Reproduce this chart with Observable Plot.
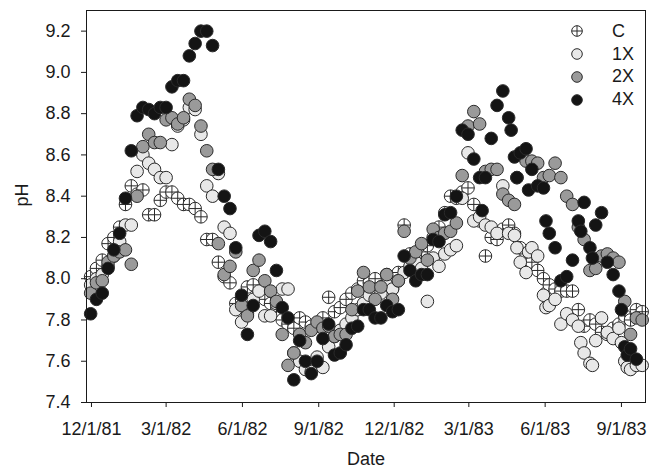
<!DOCTYPE html>
<html>
<head>
<meta charset="utf-8">
<script src="https://cdn.jsdelivr.net/npm/d3@7"></script>
<script src="https://cdn.jsdelivr.net/npm/@observablehq/plot@0.6"></script>
<style>
  body { margin: 0; background: #fff; }
  #chart { position: relative; width: 649px; height: 471px; font-family: "Liberation Sans", Arial, sans-serif; color: #1a1a1a; }
  #legend { position: absolute; left: 569px; top: 20px; }
  .item { display: flex; align-items: center; height: 22.8px; font-size: 18px; }
  .item svg { margin-right: 27px; display: block; }
</style>
</head>
<body>
<div id="chart"><div id="legend"></div></div>
<script>
// Weekly sampling dates (shared by all treatments)
const dates = [
  "1981-11-30","1981-12-07","1981-12-14","1981-12-21","1981-12-28","1982-01-04","1982-01-11","1982-01-18",
  "1982-01-25","1982-02-01","1982-02-08","1982-02-15","1982-02-22","1982-03-01","1982-03-08","1982-03-15",
  "1982-03-22","1982-03-29","1982-04-05","1982-04-12","1982-04-19","1982-04-26","1982-05-03","1982-05-10",
  "1982-05-17","1982-05-24","1982-05-31","1982-06-07","1982-06-14","1982-06-21","1982-06-28","1982-07-05",
  "1982-07-12","1982-07-19","1982-07-26","1982-08-02","1982-08-09","1982-08-16","1982-08-23","1982-08-30",
  "1982-09-06","1982-09-13","1982-09-20","1982-09-27","1982-10-04","1982-10-11","1982-10-18","1982-10-25",
  "1982-11-01","1982-11-08","1982-11-15","1982-11-22","1982-11-29","1982-12-06","1982-12-13","1982-12-20",
  "1982-12-27","1983-01-03","1983-01-10","1983-01-17","1983-01-24","1983-01-31","1983-02-07","1983-02-14",
  "1983-02-21","1983-02-28","1983-03-07","1983-03-14","1983-03-21","1983-03-28","1983-04-04","1983-04-11",
  "1983-04-18","1983-04-25","1983-05-02","1983-05-09","1983-05-16","1983-05-23","1983-05-30","1983-06-06",
  "1983-06-13","1983-06-20","1983-06-27","1983-07-04","1983-07-11","1983-07-18","1983-07-25","1983-08-01",
  "1983-08-08","1983-08-15","1983-08-22","1983-08-29","1983-09-05","1983-09-12","1983-09-19","1983-09-26"
];

const phC = [
  8.01,8.05,8.09,8.17,8.20,8.25,8.36,8.45, 8.41,8.43,8.31,8.31,8.38,8.42,8.42,8.39,
  8.36,8.36,8.34,8.30,8.19,8.19,8.08,8.01, 7.98,7.88,7.90,7.96,7.97,7.93,7.90,7.88,
  7.84,7.80,7.78,7.76,7.81,7.79,7.77,7.77, 7.81,7.91,7.84,7.86,7.90,7.93,7.95,7.99,
  7.98,8.00,7.96,8.02,7.95,8.03,8.26,8.12, 8.11,8.13,8.16,8.20,8.25,8.32,8.40,8.39,
  8.42,8.44,8.36,8.28,8.11,8.20,8.19,8.24, 8.26,8.22,8.15,8.12,8.08,8.04,8.00,7.97,
  7.95,7.94,7.94,7.94,7.85,7.77,7.80,7.78, 7.74,7.73,7.76,7.78,7.82,7.80,7.85,7.84
];
const ph1X = [
  7.97,8.00,8.02,8.06,8.11,8.18,8.26,8.26, 8.52,8.60,8.56,8.53,8.49,8.49,8.65,8.74,
  8.77,8.83,8.82,8.70,8.45,8.40,8.51,8.25, 8.22,7.85,7.79,7.83,7.90,7.94,7.82,7.82,
  7.88,7.95,7.95,7.64,7.60,7.56,7.55,7.62, 7.57,7.67,7.72,7.75,7.78,7.81,7.85,7.88,
  7.92,7.95,7.93,7.97,7.95,7.99,8.03,8.06, 8.08,8.05,7.89,8.10,8.06,8.12,8.14,8.16,
  8.39,8.61,8.28,8.30,8.26,8.25,8.22,8.45, 8.22,8.21,8.08,8.03,8.15,8.11,7.92,7.87,
  7.90,7.78,7.83,7.80,7.77,7.64,7.59,7.70, 7.81,7.74,7.71,7.76,7.60,7.56,7.58,7.58
];
const ph2X = [
  7.93,7.98,7.99,8.08,8.11,8.13,8.14,8.07, 8.40,8.64,8.70,8.66,8.66,8.77,8.78,8.75,
  8.78,8.87,8.84,8.74,8.62,8.53,8.17,8.02, 8.06,8.13,7.87,7.82,8.04,8.09,7.99,7.94,
  7.89,7.73,7.58,7.64,7.73,7.69,7.75,7.79, 7.76,7.77,7.72,7.73,7.73,7.85,7.94,8.03,
  7.96,7.90,7.96,8.02,7.90,7.99,8.23,8.10, 8.13,8.17,8.09,8.24,8.20,8.22,8.23,8.27,
  8.50,8.74,8.81,8.75,8.52,8.53,8.53,8.41, 8.38,8.36,8.60,8.57,8.57,8.56,8.49,8.50,
  8.56,8.49,8.40,8.36,8.25,8.19,8.04,8.05, 8.11,8.12,8.10,8.08,7.89,7.73,7.81,7.80
];
const ph4X = [
  7.83,7.90,7.93,8.05,8.14,8.22,8.39,8.62, 8.79,8.83,8.82,8.80,8.83,8.83,8.93,8.96,
  8.96,9.08,9.14,9.20,9.20,9.13,8.53,8.40, 8.34,8.15,7.92,7.73,7.87,8.21,8.23,8.18,
  8.04,7.86,7.81,7.51,7.70,7.60,7.54,7.60, 7.71,7.78,7.63,7.64,7.68,7.76,7.77,7.85,
  7.85,7.81,7.81,7.87,7.84,7.85,8.11,8.04, 7.99,8.02,8.02,8.19,8.18,8.31,8.32,8.40,
  8.72,8.70,8.58,8.49,8.49,8.68,8.84,8.91, 8.78,8.59,8.61,8.63,8.53,8.45,8.44,8.22,
  8.15,7.99,8.01,8.09,8.28,8.37,8.15,8.26, 8.32,8.08,8.02,7.94,7.67,7.66,7.61,null
];

// Additional mid-week samples in 1983
const extraDates = ["1983-03-17","1983-04-21","1983-04-28","1983-05-12","1983-06-02","1983-07-14","1983-07-28","1983-09-01","1983-09-08"];
const extraC  = [null,null,null,null,7.93,null,null,null,null];
const extra1X = [null,null,8.15,8.13,7.86,7.69,7.58,7.69,7.57];
const extra2X = [null,null,8.49,null,null,null,null,null,null];
const extra4X = [8.33,8.72,8.49,8.43,8.28,8.23,8.10,7.85,7.63];

const seriesNames = ["C","1X","2X","4X"];
const xTickLabels = ["12/1/81","3/1/82","6/1/82","9/1/82","12/1/82","3/1/83","6/1/83","9/1/83"];
const yTicks = [7.4,7.6,7.8,8.0,8.2,8.4,8.6,8.8,9.0,9.2];

const parseISO = d3.utcParse("%Y-%m-%d");
const parseTick = d3.utcParse("%m/%d/%y");
const xTicks = xTickLabels.map(parseTick);
const labelOf = new Map(xTicks.map((d, i) => [+d, xTickLabels[i]]));

const mainVals = [phC, ph1X, ph2X, ph4X];
const extraVals = [extraC, extra1X, extra2X, extra4X];
const rowsBy = seriesNames.map((s, j) => {
  const rows = [];
  mainVals[j].forEach((v, i) => { if (v != null) rows.push({date: parseISO(dates[i]), ph: v, series: s}); });
  extraVals[j].forEach((v, i) => { if (v != null) rows.push({date: parseISO(extraDates[i]), ph: v, series: s}); });
  rows.sort((a, b) => a.date - b.date);
  return rows;
});

const crossCircle = {
  draw(ctx, size) {
    const r = Math.sqrt(size / Math.PI);
    ctx.moveTo(r, 0);
    ctx.arc(0, 0, r, 0, 2 * Math.PI);
    ctx.moveTo(-r, 0); ctx.lineTo(r, 0);
    ctx.moveTo(0, -r); ctx.lineTo(0, r);
  }
};

const styles = {
  "C":  {fill: "#ffffff", symbol: crossCircle},
  "1X": {fill: "#e8e8e8", symbol: "circle"},
  "2X": {fill: "#9a9a9a", symbol: "circle"},
  "4X": {fill: "#141414", symbol: "circle"}
};
const strokeColor = "#2a2a2a";

const chart = Plot.plot({
  width: 649,
  height: 471,
  marginTop: 10,
  marginRight: 4,
  marginBottom: 69,
  marginLeft: 86,
  style: {fontFamily: "'Liberation Sans', Arial, sans-serif", fontSize: "18px", color: "#1a1a1a", background: "#fff"},
  x: {type: "utc", domain: [parseISO("1981-11-25"), parseISO("1983-09-30")]},
  y: {domain: [7.4, 9.3]},
  marks: [
    ...seriesNames.map((s, j) => Plot.dot(rowsBy[j], {
      x: "date", y: "ph", r: 6.3,
      symbol: styles[s].symbol,
      fill: styles[s].fill,
      stroke: strokeColor, strokeWidth: 1
    })),
    Plot.frame({stroke: "#1a1a1a", strokeWidth: 1}),
    Plot.axisX({ticks: xTicks, tickFormat: d => labelOf.get(+d), tickSize: 5, tickPadding: 15, fontSize: 18, label: null}),
    Plot.axisY({ticks: yTicks, tickFormat: d => d.toFixed(1), tickSize: 5, tickPadding: 11, fontSize: 18, label: null}),
    Plot.text(["Date"], {text: d => d, frameAnchor: "bottom", dy: 62, fontSize: 18}),
    Plot.text(["pH"], {text: d => d, frameAnchor: "left", dx: -64, rotate: -90, fontSize: 18})
  ]
});
const host = document.getElementById("chart");
host.insertBefore(chart, host.firstChild);

// Legend (inside the plot, top right)
const legend = document.getElementById("legend");
seriesNames.forEach(s => {
  const item = document.createElement("div");
  item.className = "item";
  const ns = "http://www.w3.org/2000/svg";
  const svg = document.createElementNS(ns, "svg");
  svg.setAttribute("width", 16); svg.setAttribute("height", 16);
  const p = d3.path();
  const r = 5.3;
  if (s === "C") crossCircle.draw(p, r * r * Math.PI);
  else { p.moveTo(r, 0); p.arc(0, 0, r, 0, 2 * Math.PI); }
  const path = document.createElementNS(ns, "path");
  path.setAttribute("d", p.toString());
  path.setAttribute("transform", "translate(8,8)");
  path.setAttribute("fill", styles[s].fill);
  path.setAttribute("stroke", strokeColor);
  path.setAttribute("stroke-width", 1);
  svg.appendChild(path);
  const span = document.createElement("span");
  span.textContent = s;
  item.appendChild(svg); item.appendChild(span);
  legend.appendChild(item);
});
</script>
</body>
</html>
